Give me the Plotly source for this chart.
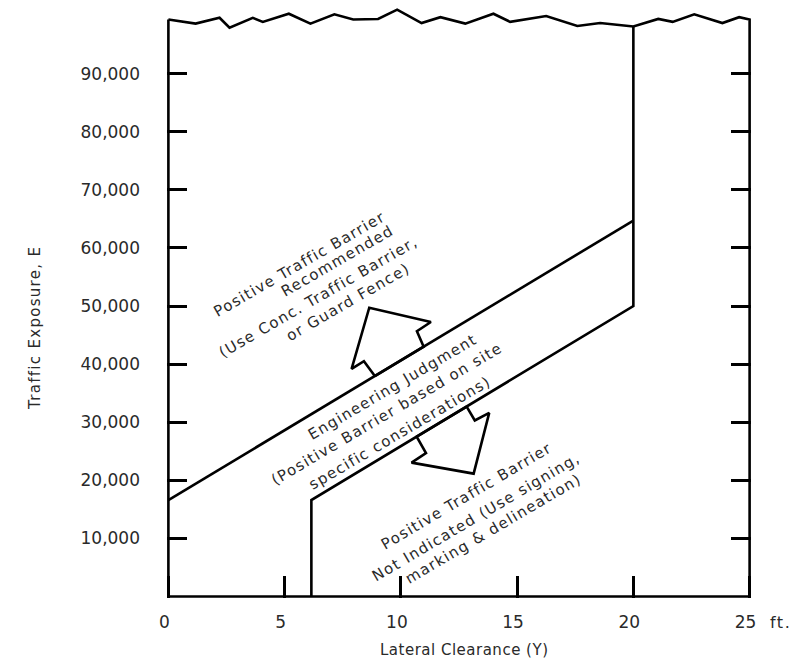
import plotly.graph_objects as go

# ---------------- data ----------------
# Jagged "break" line along the top of the chart (lateral clearance ft, exposure E)
jag_x = [0, 1.17, 2.20, 2.63, 3.63, 4.06, 5.18, 6.11, 7.14, 7.95, 9.02, 9.84, 10.89,
         11.70, 12.77, 13.98, 14.70, 16.25, 17.59, 18.57, 20.0, 21.07, 21.69, 22.62,
         23.83, 24.55, 25.0]
jag_y = [99300, 98600, 99600, 97900, 99600, 98900, 100300, 98600, 100200, 99300, 99400,
         101000, 98700, 99700, 98600, 100300, 98900, 99900, 98200, 98700, 98100, 99400,
         98900, 100200, 98700, 99700, 99300]

# Upper boundary: Positive barrier recommended above this line
upper_x = [0, 20]
upper_y = [16600, 64700]

# Lower boundary: Positive barrier not indicated below this line
lower_x = [6.15, 6.15, 20, 20]
lower_y = [0, 16600, 50000, 98100]

# Block arrows (outline polygons)
up_arrow_x = [8.88, 8.41, 7.88, 8.64, 11.29, 10.69, 10.98, 8.88]
up_arrow_y = [37950, 40500, 39200, 49700, 47250, 45650, 43000, 37950]
down_arrow_x = [12.83, 13.18, 13.80, 13.13, 10.46, 11.08, 10.68, 12.83]
down_arrow_y = [32700, 30300, 31600, 21150, 23050, 24700, 27500, 32700]

x_tick_vals = [0, 5, 10, 15, 20, 25]
x_tick_text = ["0", "5", "10", "15", "20", "25"]
y_tick_vals = [10000, 20000, 30000, 40000, 50000, 60000, 70000, 80000, 90000]
y_tick_text = ["10,000", "20,000", "30,000", "40,000", "50,000",
               "60,000", "70,000", "80,000", "90,000"]

zone_up_lines = ["Positive Traffic Barrier", "Recommended",
                 "(Use Conc. Traffic Barrier,", "or Guard Fence)"]
zone_mid_lines = ["Engineering Judgment", "(Positive Barrier based on site",
                  "specific considerations)"]
zone_low_lines = ["Positive Traffic Barrier", "Not Indicated (Use signing,",
                  "marking & delineation)"]

# ---------------- figure ----------------
FONT = "DejaVu Sans"
TXT = "#2a2a2a"
LW = 2.6


def spaced(t, px):
    return f'<span style="letter-spacing:{px}px">{t}</span>'


fig = go.Figure()

# frame: left edge, bottom, right edge, then jagged top back to start
frame_x = [jag_x[0], 0, 25, jag_x[-1]] + jag_x[::-1]
frame_y = [jag_y[0], 0, 0, jag_y[-1]] + jag_y[::-1]
for xs, ys in [(frame_x, frame_y), (upper_x, upper_y), (lower_x, lower_y),
               (up_arrow_x, up_arrow_y), (down_arrow_x, down_arrow_y)]:
    fig.add_trace(go.Scatter(x=xs, y=ys, mode="lines",
                             line=dict(color="black", width=LW), hoverinfo="skip"))

annotations = []


def add_lines(lines, centers, angle, size=15, ls=1.3):
    for t, (cx, cy) in zip(lines, centers):
        annotations.append(dict(x=cx, y=cy, xref="x", yref="y", text=spaced(t, ls),
                                showarrow=False, textangle=angle,
                                xanchor="center", yanchor="middle",
                                font=dict(family=FONT, size=size, color=TXT)))


add_lines(zone_up_lines, [(5.66, 57200), (7.27, 57750), (6.45, 51600), (7.74, 50700)], -30)
add_lines(zone_mid_lines, [(9.64, 36100), (9.39, 31500), (9.96, 28100)], -30.5)
add_lines(zone_low_lines, [(12.83, 17300), (13.24, 13700), (13.97, 11600)], -30.5)

# axis titles and unit
annotations.append(dict(x=-0.226, y=0.4576, xref="paper", yref="paper",
                        text=spaced("Traffic Exposure, E", 1.3), textangle=-90,
                        showarrow=False, xanchor="center", yanchor="middle",
                        font=dict(family=FONT, size=15, color=TXT)))
annotations.append(dict(x=0.510, y=-0.088, xref="paper", yref="paper",
                        text=spaced("Lateral Clearance (Y)", 0.5), showarrow=False,
                        xanchor="center", yanchor="middle",
                        font=dict(family=FONT, size=15, color=TXT)))
annotations.append(dict(x=1.0497, y=-0.042, xref="paper", yref="paper",
                        text=spaced("ft.", 1.5), showarrow=False,
                        xanchor="center", yanchor="middle",
                        font=dict(family=FONT, size=16, color=TXT)))

# The page adds an 8px body margin, so the figure is sized 8px smaller
fig.update_layout(
    width=798, height=650,
    margin=dict(l=159, r=55, t=0, b=60),
    paper_bgcolor="white", plot_bgcolor="white",
    showlegend=False,
    annotations=annotations,
    xaxis=dict(range=[-0.06, 25.06], showgrid=False, zeroline=False, showline=False,
               tickmode="array", tickvals=x_tick_vals, ticktext=x_tick_text,
               ticks="inside", ticklen=22, tickwidth=LW, tickcolor="black",
               ticklabelstandoff=12, ticklabelshift=-4,
               tickfont=dict(family=FONT, size=17, color=TXT),
               automargin=False, fixedrange=True),
    yaxis=dict(range=[-250, 101287], showgrid=False, zeroline=False, showline=False,
               tickmode="array", tickvals=y_tick_vals, ticktext=y_tick_text,
               ticks="inside", ticklen=20, tickwidth=LW, tickcolor="black",
               mirror="ticks", ticklabelstandoff=26,
               tickfont=dict(family=FONT, size=17, color=TXT),
               automargin=False, fixedrange=True),
)

fig.write_html("out.html")
